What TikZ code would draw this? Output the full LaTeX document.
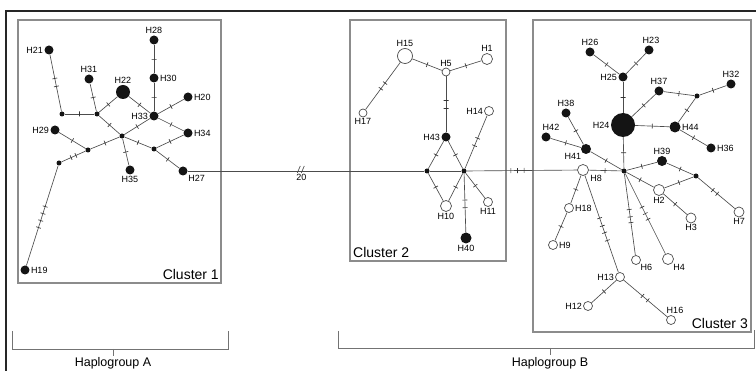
\documentclass[tikz,border=0pt]{standalone}
\usepackage{fontspec}
\setmainfont{Liberation Sans}
\begin{document}
\begin{tikzpicture}[x=1pt,y=-1pt,
  edgec/.style={draw=black!70},
  ed/.style={edgec,line width=0.65},
  fn/.style={circle,fill=black!92,inner sep=0,minimum size=9},
  mv/.style={circle,fill=black!92,inner sep=0,minimum size=5},
  on/.style={circle,draw=black!70,fill=white,line width=0.7,inner sep=0,minimum size=9},
  lb/.style={font=\fontsize{9}{10}\selectfont,inner sep=0.5,text=black},
  every label/.style={lb},
  label distance=0.6pt,
  tk/.style={sloped,draw=black!80,inner sep=0,minimum height=5,minimum width=0,line width=0.65},
  box/.style={draw=black!45,line width=1.3},
  cl/.style={font=\fontsize{14}{15}\selectfont,inner sep=1,text=black},
  hg/.style={draw=black!55,line width=0.8},
  hl/.style={font=\fontsize{12.5}{13}\selectfont,text=black,inner sep=1}
]
\useasboundingbox (0,0) rectangle (756,371);
% outer frame
\draw[line width=2,black!85] (6,371) -- (6,11) -- (756,11);
% cluster boxes
\draw[box] (18,20) rectangle (221,283);
\draw[box] (350,20) rectangle (506,261);
\draw[box] (533,20) rectangle (751,332);
\node[cl,anchor=south east] (c1) at (220,281) {Cluster 1};
\node[cl,anchor=south west] (c2) at (352,259) {Cluster 2};
\node[cl,anchor=south east] (c3) at (749,330) {Cluster 3};
% haplogroup brackets
\draw[hg] (12,331) -- (12,349) -- (228,349) -- (228,331);
\coordinate (hA) at (113,349);
\draw[hg] (hA) -- ++(0,7);
\node[hl] (hAl) at (113,363) {Haplogroup A};
\draw[hg] (338,331) -- (338,348) -- (754,348) -- (754,330);
\coordinate (hB) at (550,348);
\draw[hg] (hB) -- ++(0,7);
\node[hl] (hBl) at (550,363) {Haplogroup B};

% ---------- Cluster 1 ----------
\node[fn,label=left:H21] (H21) at (49,50) {};
\node[fn,label=above:H31] (H31) at (89,79) {};
\node[fn,minimum size=14,label=above:H22] (H22) at (123,92) {};
\node[fn,label=above:H28] (H28) at (154,40) {};
\node[fn,label=right:H30] (H30) at (154,78) {};
\node[fn,label=right:H20] (H20) at (188,97) {};
\node[fn,label=left:H33] (H33) at (154,116) {};
\node[fn,label=right:H34] (H34) at (188,133) {};
\node[fn,label=left:H29] (H29) at (55,130) {};
\node[mv] (a1) at (62,114) {};
\node[mv] (b1) at (97,114) {};
\node[mv] (c1n) at (122,136) {};
\node[mv] (d1) at (88,150) {};
\node[mv] (e1) at (59,163) {};
\node[mv] (f1) at (154,149) {};
\node[fn,label=below:H35] (H35) at (130,170) {};
\node[fn,label={[xshift=1pt]below right:H27}] (H27) at (183,171) {};
\node[fn,label=right:H19] (H19) at (25,270) {};

\draw[ed] (H21) -- node[tk,pos=.42]{} node[tk,pos=.56]{} (a1);
\draw[ed] (a1) -- node[tk]{} (b1);
\draw[ed] (b1) -- node[tk]{} (H31);
\draw[ed] (b1) -- node[tk]{} (H22);
\draw[ed] (H22) -- node[tk]{} (H33);
\draw[ed] (H28) -- node[tk]{} (H30);
\draw[ed] (H30) -- node[tk]{} (H33);
\draw[ed] (H33) -- node[tk]{} (H20);
\draw[ed] (H33) -- node[tk]{} (H34);
\draw[ed] (b1) -- node[tk]{} (c1n);
\draw[ed] (c1n) -- node[tk]{} (H33);
\draw[ed] (c1n) -- node[tk]{} (d1);
\draw[ed] (d1) -- node[tk]{} (H29);
\draw[ed] (c1n) -- node[tk]{} (H35);
\draw[ed] (c1n) -- node[tk]{} (f1);
\draw[ed] (f1) -- node[tk]{} (H34);
\draw[ed] (f1) -- node[tk]{} (H27);
\draw[ed] (d1) -- node[tk,pos=.4]{} node[tk,pos=.6]{} (e1);
\draw[ed] (e1) -- node[tk,pos=.41]{} node[tk,pos=.48]{} node[tk,pos=.55]{} node[tk,pos=.62]{} (H19);

% ---------- Cluster 2 ----------
\node[on,minimum size=15,label=above:H15] (H15) at (405,56) {};
\node[on,minimum size=8,label=above:H5] (H5) at (446,72) {};
\node[on,minimum size=11,label=above:H1] (H1) at (487,59) {};
\node[on,minimum size=8,label=below:H17] (H17) at (363,113) {};
\node[on,minimum size=9,label=left:H14] (H14) at (489,111) {};
\node[fn,label=left:H43] (H43) at (446,137) {};
\node[mv] (L) at (427,171) {};
\node[mv] (R) at (464,171) {};
\node[on,minimum size=11,label=below:H10] (H10) at (446,206) {};
\node[on,minimum size=9,label=below:H11] (H11) at (488,202) {};
\node[fn,minimum size=11,label=below:H40] (H40) at (466,238) {};

\draw[ed] (H15) -- node[tk]{} (H5);
\draw[ed] (H5) -- node[tk]{} (H1);
\draw[ed] (H15) -- node[tk,pos=.44]{} node[tk,pos=.56]{} (H17);
\draw[ed] (H5) -- node[tk,pos=.42]{} node[tk,pos=.58]{} (H43);
\draw[ed] (H43) -- node[tk]{} (L);
\draw[ed] (H43) -- node[tk]{} (R);
\draw[ed] (L) -- node[tk]{} (H10);
\draw[ed] (R) -- node[tk]{} (H10);
\draw[ed] (R) -- node[tk,pos=.43]{} node[tk,pos=.57]{} (H14);
\draw[ed] (R) -- node[tk]{} (H11);
\draw[ed] (R) -- node[tk,pos=.45]{} node[tk,pos=.58]{} (H40);
\draw[ed] (L) -- (R);

% long connection
\draw[ed] (H27) -- node[lb,below=2pt,pos=.48]{20} coordinate[pos=.48] (brk) (L);
\draw[ed] ([shift={(-4,2)}]brk) -- ++(3,-7);
\draw[ed] ([shift={(0,2)}]brk) -- ++(3,-7);

% ---------- Cluster 3 ----------
\node[fn,label=above:H26] (H26) at (590,52) {};
\node[fn,label={[xshift=2pt]above:H23}] (H23) at (649,50) {};
\node[fn,label=left:H25] (H25) at (623,77) {};
\node[fn,label=above:H37] (H37) at (659,91) {};
\node[fn,label=above:H32] (H32) at (731,84) {};
\node[mv] (g3) at (697,96) {};
\node[fn,label=above:H38] (H38) at (566,113) {};
\node[fn,minimum size=24,label=left:H24] (H24) at (623,125) {};
\node[fn,minimum size=11,label=right:H44] (H44) at (675,127) {};
\node[fn,label=right:H36] (H36) at (711,148) {};
\node[fn,label={[xshift=5pt]above:H42}] (H42) at (546,137) {};
\node[fn,minimum size=10,label=below left:H41] (H41) at (586,149) {};
\node[fn,minimum size=10,label=above:H39] (H39) at (662,161) {};
\node[mv] (M) at (624,171) {};
\node[on,minimum size=11,label={[xshift=2pt]below right:H8}] (H8) at (583,170) {};
\node[mv] (n3) at (696,176) {};
\node[on,minimum size=11,label=below:H2] (H2) at (659,190) {};
\node[on,minimum size=10,label=below:H3] (H3) at (691,218) {};
\node[on,minimum size=10,label=below:H7] (H7) at (739,212) {};
\node[on,minimum size=9,label=right:H18] (H18) at (569,208) {};
\node[on,minimum size=9,label=right:H9] (H9) at (553,245) {};
\node[on,minimum size=9,label=below right:H6] (H6) at (636,260) {};
\node[on,minimum size=11,label=below right:H4] (H4) at (668,259) {};
\node[on,minimum size=9,label=left:H13] (H13) at (620,277) {};
\node[on,minimum size=9,label=left:H12] (H12) at (588,306) {};
\node[on,minimum size=9,label={[xshift=4pt]above:H16}] (H16) at (671,320) {};

\draw[ed] (H26) -- node[tk]{} (H25);
\draw[ed] (H23) -- node[tk]{} (H25);
\draw[ed] (H25) -- node[tk]{} (H24);
\draw[ed] (H24) -- node[tk]{} (H37);
\draw[ed] (H37) -- node[tk]{} (g3);
\draw[ed] (g3) -- node[tk]{} (H32);
\draw[ed] (g3) -- node[tk]{} (H44);
\draw[ed] (H24) -- node[tk]{} (H44);
\draw[ed] (H44) -- node[tk]{} (H36);
\draw[ed] (H38) -- node[tk]{} (H41);
\draw[ed] (H42) -- node[tk]{} (H41);
\draw[ed] (H41) -- node[tk]{} (M);
\draw[ed] (H24) -- node[tk]{} (M);
\draw[ed] (M) -- node[tk]{} (H39);
\draw[ed] (H39) -- node[tk]{} (n3);
\draw[ed] (n3) -- node[tk]{} (H2);
\draw[ed] (n3) -- node[tk,pos=.4]{} node[tk,pos=.52]{} (H7);
\draw[ed] (M) -- node[tk]{} (H2);
\draw[ed] (H2) -- node[tk]{} (H3);
\draw[ed] (H8) -- node[tk]{} (M);
\draw[ed] (H8) -- node[tk]{} (H18);
\draw[ed] (H18) -- node[tk]{} (H9);
\draw[ed] (H8) -- node[tk,pos=.44]{} node[tk,pos=.52]{} node[tk,pos=.59]{} node[tk,pos=.67]{} (H13);
\draw[ed] (M) -- node[tk,pos=.44]{} node[tk,pos=.53]{} node[tk,pos=.6]{} (H6);
\draw[ed] (M) -- node[tk,pos=.42]{} node[tk,pos=.5]{} node[tk,pos=.57]{} (H4);
\draw[ed] (H13) -- node[tk]{} (H12);
\draw[ed] (H13) -- node[tk,pos=.43]{} node[tk,pos=.55]{} (H16);
\draw[ed] (R) -- node[tk,pos=.40]{} node[tk,pos=.46]{} node[tk,pos=.52]{} (H8);
\end{tikzpicture}
\end{document}
